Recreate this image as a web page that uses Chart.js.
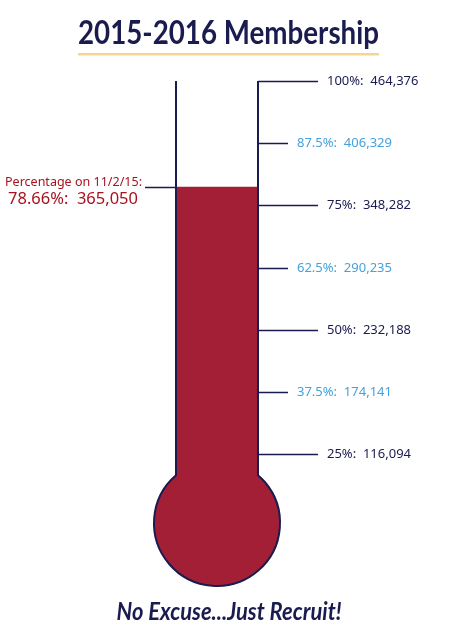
<!DOCTYPE html>
<html>
<head>
<meta charset="utf-8">
<title>2015-2016 Membership</title>
<script src="https://cdn.jsdelivr.net/npm/chart.js@4"></script>
<style>
    html, body { margin: 0; padding: 0; background: #ffffff; }
    #wrap { position: relative; width: 457px; height: 640px; }
</style>
</head>
<body>
<div id="wrap"><canvas id="membershipChart"></canvas></div>
<script>
// Membership thermometer data
const categories = ['11/2/15'];
const currentPercent = [78.66];
const currentMembers = [365050];
const goalMembers = 464376;

// Marks along the right side of the tube
const tickPercents = [100, 87.5, 75, 62.5, 50, 37.5, 25];
const tickMembers = [464376, 406329, 348282, 290235, 232188, 174141, 116094];
const tickMajor = [true, false, true, false, true, false, true];

const NAVY = '#1a1b4f';
const BLUE = '#45a2dc';
const RED = '#a21f36';
const TEXT_RED = '#a8121f';
const GOLD = '#f2d88c';

function formatCount(n) {
    return n.toLocaleString('en-US');
}

// Bulb geometry is derived from the tube (chart area) width
function bulbInfo(chart) {
    const area = chart.chartArea;
    const cx = (area.left + area.right) / 2;
    return { cx: cx, cy: 523, r: 63 };
}

// Draws the bulb fill underneath the bar
const bulbFillPlugin = {
    id: 'bulbFill',
    beforeDatasetsDraw(chart) {
        const ctx = chart.ctx;
        const b = bulbInfo(chart);
        ctx.save();
        ctx.fillStyle = RED;
        ctx.beginPath();
        ctx.arc(b.cx, b.cy, b.r, 0, Math.PI * 2);
        ctx.fill();
        ctx.restore();
    }
};

// Outline of the thermometer, scale marks and all the text
const thermometerPlugin = {
    id: 'thermometer',
    afterDatasetsDraw(chart) {
        const ctx = chart.ctx;
        const area = chart.chartArea;
        const y = chart.scales.y;
        const b = bulbInfo(chart);
        const top = y.getPixelForValue(100);

        // tube walls + bulb outline
        const half = (area.right - area.left) / 2;
        const dy = Math.sqrt(b.r * b.r - half * half);
        const a0 = Math.atan2(-dy, -half);
        const a1 = Math.atan2(-dy, half);
        ctx.save();
        ctx.strokeStyle = NAVY;
        ctx.lineWidth = 2;
        ctx.beginPath();
        ctx.moveTo(area.left, top);
        ctx.lineTo(area.left, b.cy - dy);
        ctx.arc(b.cx, b.cy, b.r, a0, a1 + Math.PI * 2, true);
        ctx.lineTo(area.right, top);
        ctx.stroke();

        // scale marks on the right
        ctx.textBaseline = 'middle';
        ctx.textAlign = 'left';
        ctx.font = '13px "Noto Sans"';
        tickPercents.forEach((pct, i) => {
            const py = Math.round(y.getPixelForValue(pct)) + 0.5;
            const len = tickMajor[i] ? 60 : 30;
            ctx.lineWidth = 1.5;
            ctx.strokeStyle = NAVY;
            ctx.beginPath();
            ctx.moveTo(area.right, py);
            ctx.lineTo(area.right + len, py);
            ctx.stroke();
            ctx.fillStyle = tickMajor[i] ? NAVY : BLUE;
            ctx.fillText(pct + '%:  ' + formatCount(tickMembers[i]), area.right + len + 9, py);
        });

        // current level pointer on the left
        const cy = Math.round(y.getPixelForValue(currentPercent[0])) + 0.5;
        ctx.lineWidth = 1.5;
        ctx.strokeStyle = NAVY;
        ctx.beginPath();
        ctx.moveTo(145, cy);
        ctx.lineTo(area.left, cy);
        ctx.stroke();

        ctx.fillStyle = TEXT_RED;
        ctx.textBaseline = 'alphabetic';
        ctx.font = '13px "Noto Sans"';
        ctx.fillText('Percentage on ' + categories[0] + ':', 5, cy - 2, 137);
        ctx.font = '17px "Noto Sans"';
        ctx.fillText(currentPercent[0].toFixed(2) + '%:  ' + formatCount(currentMembers[0]), 8, cy + 16, 130);

        // title + underline
        ctx.textAlign = 'center';
        ctx.fillStyle = NAVY;
        ctx.font = 'bold 32px Lato';
        ctx.fillText('2015-2016 Membership', 228.5, 44, 301);
        ctx.fillStyle = GOLD;
        ctx.fillRect(78, 53, 301, 2.5);

        // footer
        ctx.fillStyle = NAVY;
        ctx.font = 'italic bold 24px Lato';
        ctx.fillText('No Excuse...Just Recruit!', 229, 620, 225);
        ctx.restore();
    }
};

function initMembershipChart(canvas) {
    const ctx = canvas.getContext('2d');

    new Chart(ctx, {
        type: 'bar',
        data: {
            labels: categories,
            datasets: [{
                label: 'Members (% of ' + formatCount(goalMembers) + ')',
                data: currentPercent,
                backgroundColor: RED,
                borderWidth: 0,
                barPercentage: 1,
                categoryPercentage: 1
            }]
        },
        options: {
            responsive: true,
            maintainAspectRatio: false,
            animation: false,
            layout: {
                padding: { left: 176, right: 199, top: 81, bottom: 161 }
            },
            scales: {
                x: { display: false },
                y: { display: false, min: 20, max: 100 }
            },
            plugins: {
                legend: { display: false },
                tooltip: { enabled: false }
            }
        },
        plugins: [bulbFillPlugin, thermometerPlugin]
    });
}

document.addEventListener('DOMContentLoaded', function() {
    initMembershipChart(document.getElementById('membershipChart'));
});
</script>
</body>
</html>
